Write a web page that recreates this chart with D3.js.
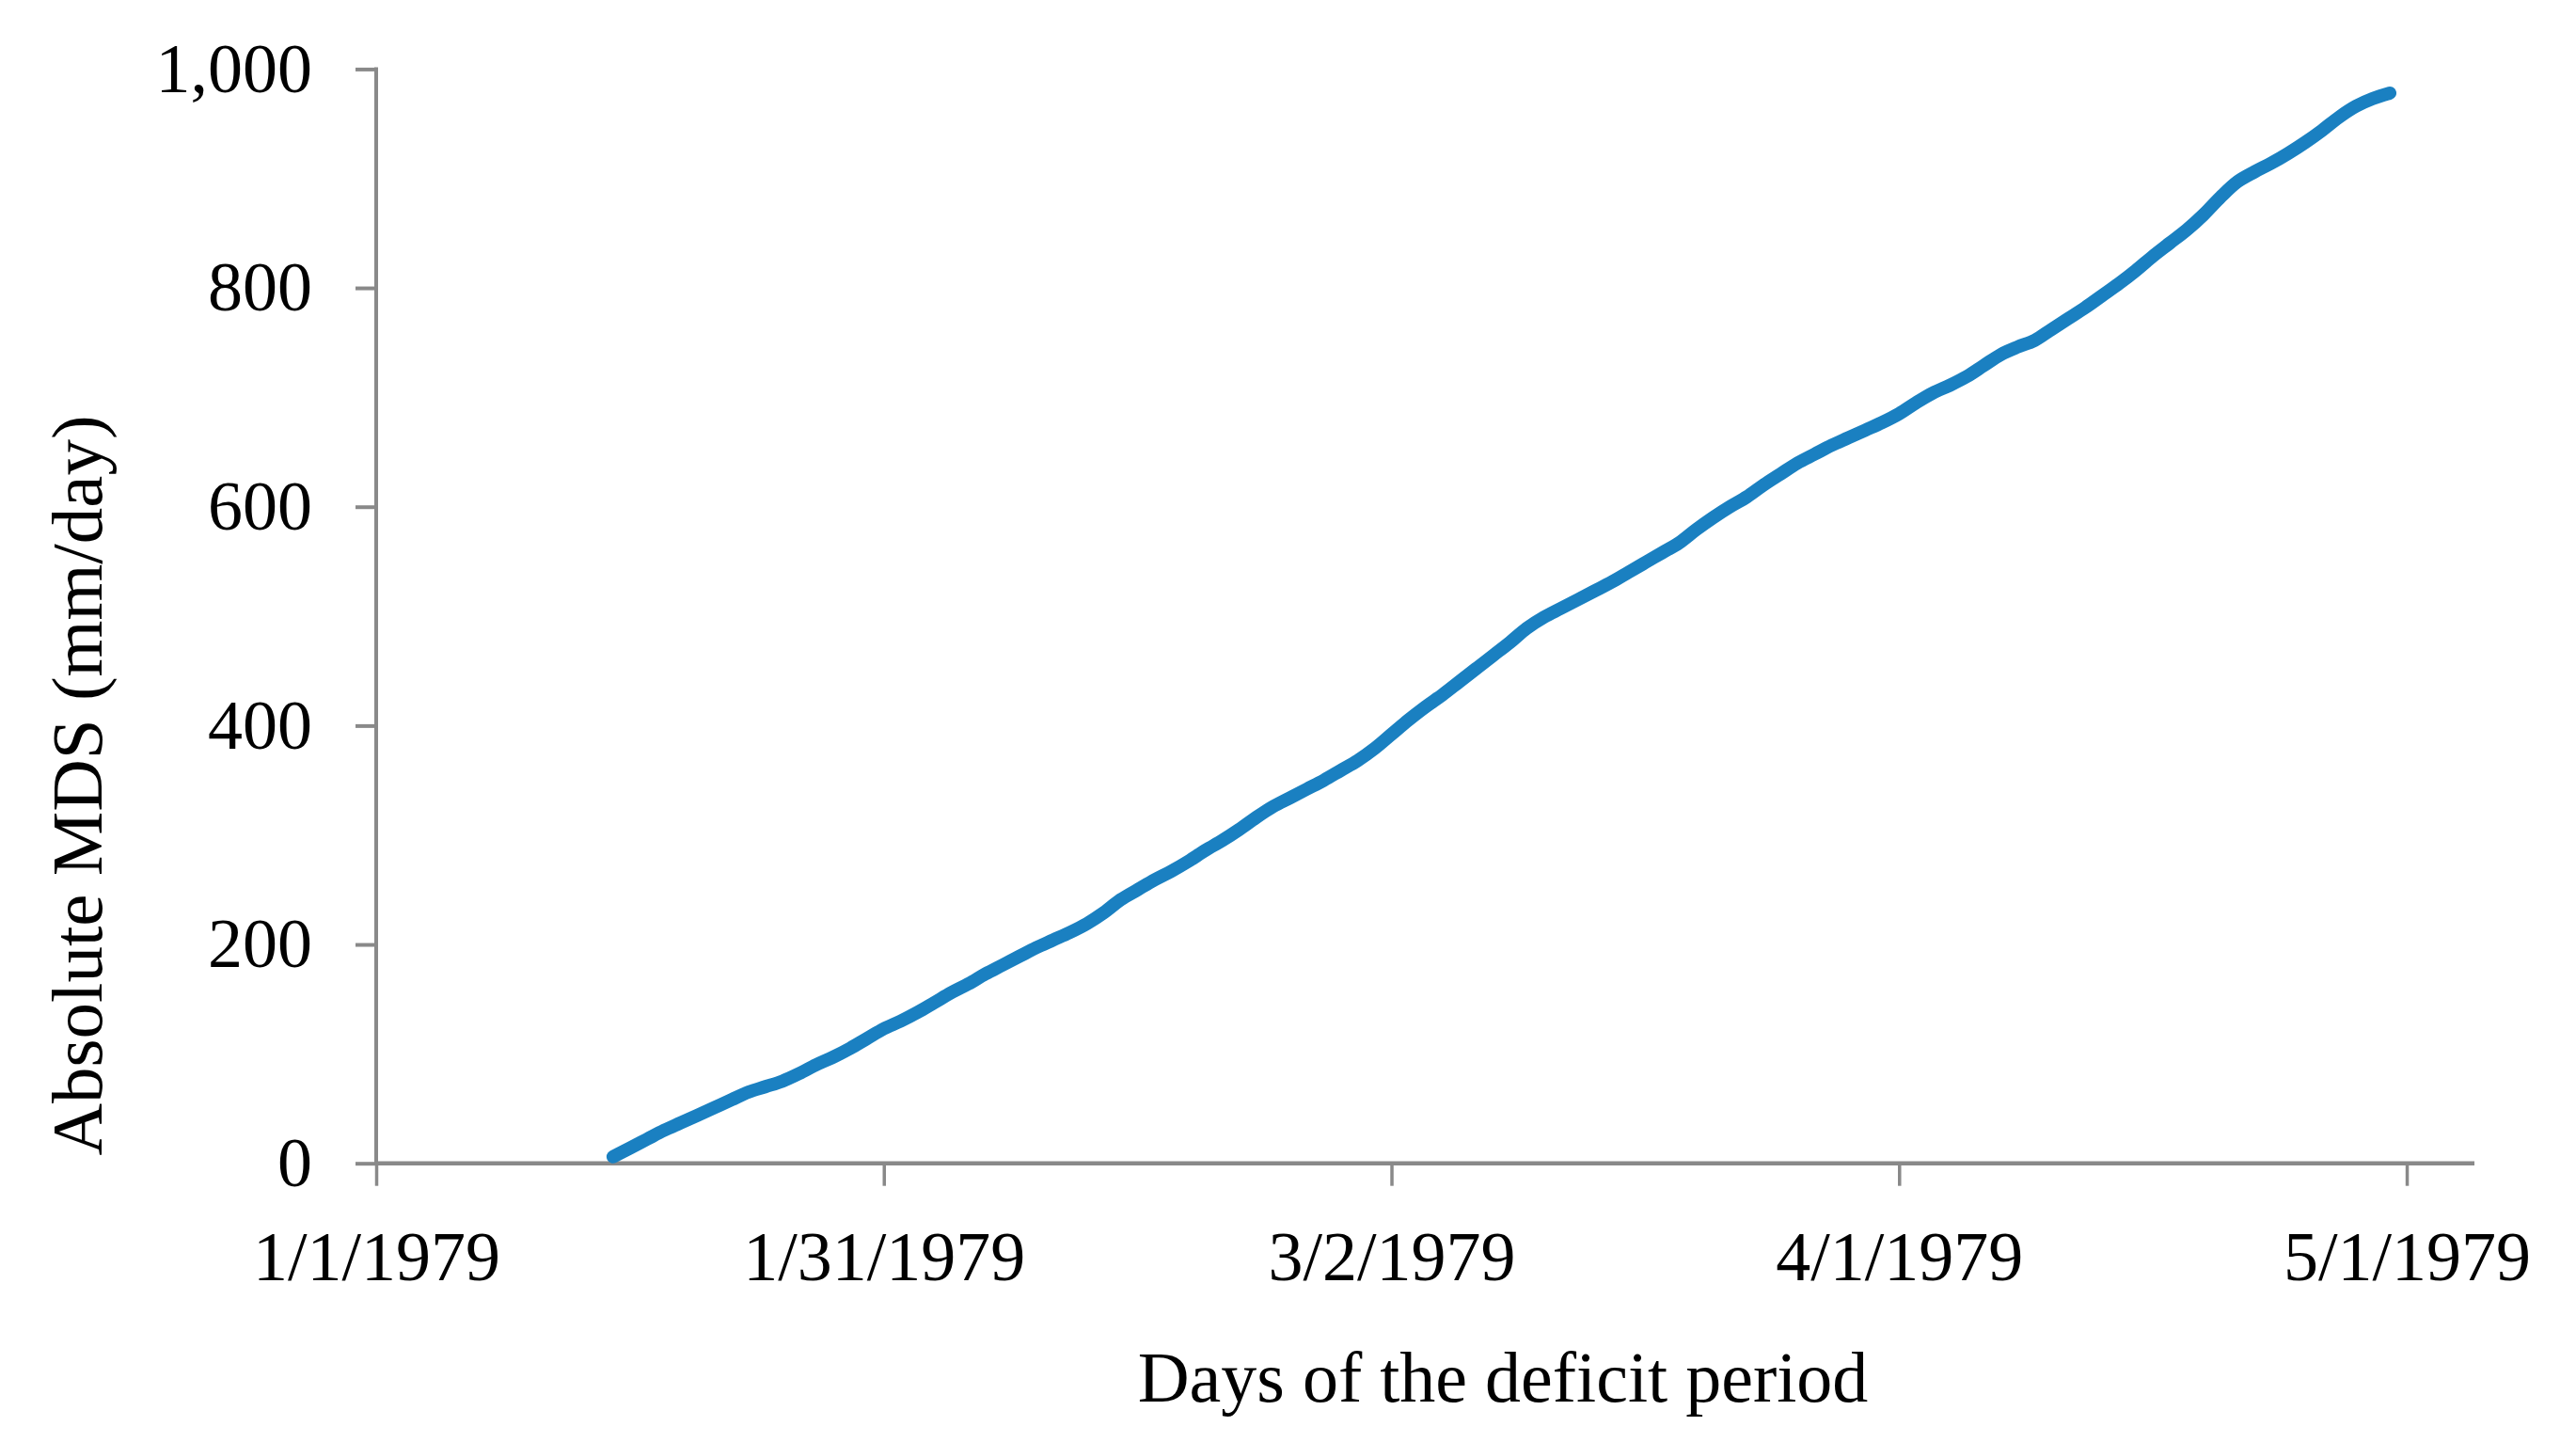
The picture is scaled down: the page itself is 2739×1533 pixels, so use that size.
<!DOCTYPE html>
<html>
<head>
<meta charset="utf-8">
<script src="https://cdn.jsdelivr.net/npm/d3@7"></script>
<style>
  html, body { margin: 0; padding: 0; background: #ffffff; }
  svg { display: block; }
  text { font-family: "Liberation Serif", "Times New Roman", serif; fill: #000; }
</style>
</head>
<body>
<svg id="chart" width="2739" height="1533"></svg>
<script>
// ---- Data ----
const startDate = "1979-01-15";            // first day of the deficit period (daily series)
const mdsValues = [
  6, 14, 22, 30, 37, 44, 51, 58, 65, 70,
  75, 82, 90, 97, 105, 114, 123, 130, 138, 147,
  156, 164, 173, 181, 189, 197, 204, 211, 219, 229,
  241, 250, 259, 267, 276, 286, 295, 305, 316, 326,
  334, 342, 350, 359, 368, 379, 392, 405, 417, 428,
  440, 452, 464, 476, 489, 499, 507, 515, 523, 531,
  540, 549, 558, 567, 579, 590, 600, 609, 620, 630,
  640, 648, 656, 663, 670, 677, 685, 695, 704, 711,
  719, 729, 739, 746, 752, 762, 772, 782, 793, 804,
  816, 829, 841, 853, 867, 883, 897, 906, 914, 923,
  933, 944, 956, 966, 973, 978
];
const xTickDates = ["1979-01-01", "1979-01-31", "1979-03-02", "1979-04-01", "1979-05-01"];
const xDomain = ["1979-01-01", "1979-05-05"];
const yTicks = [0, 200, 400, 600, 800, 1000];
const yDomain = [0, 1000];
const xTitle = "Days of the deficit period";
const yTitle = "Absolute MDS (mm/day)";

// ---- Build series ----
const parse = d3.utcParse("%Y-%m-%d");
const start = parse(startDate);
const series = mdsValues.map((v, i) => ({ date: d3.utcDay.offset(start, i), value: v }));

// ---- Layout ----
const svg = d3.select("#chart");
const plot = { left: 400, right: 2631, top: 73.4, bottom: 1236.7 };
const axisColor = "#898989";

const x = d3.scaleUtc().domain(xDomain.map(parse)).range([plot.left, plot.right]);
const y = d3.scaleLinear().domain(yDomain).range([plot.bottom, plot.top]);

const fmtDate = d3.utcFormat("%-m/%-d/%Y");
const fmtNum = d3.format(",");

// Y axis
const yAxis = d3.axisLeft(y).tickValues(yTicks).tickSize(22).tickPadding(46).tickFormat(fmtNum);
const gy = svg.append("g").attr("transform", `translate(${plot.left},0)`).call(yAxis);
gy.select(".domain").remove();
gy.selectAll(".tick line").attr("stroke", axisColor).attr("stroke-width", 4);
gy.selectAll(".tick text")
  .attr("font-family", "Liberation Serif, serif")
  .attr("font-size", 74)
  .attr("dy", "0.32em")
  .attr("fill", "#000");
gy.append("line")
  .attr("x1", 0).attr("x2", 0)
  .attr("y1", plot.top - 2).attr("y2", plot.bottom + 2)
  .attr("stroke", axisColor).attr("stroke-width", 4);

// X axis
const xAxis = d3.axisBottom(x).tickValues(xTickDates.map(parse)).tickSize(24).tickPadding(48).tickFormat(fmtDate);
const gx = svg.append("g").attr("transform", `translate(0,${plot.bottom})`).call(xAxis);
gx.select(".domain").remove();
gx.selectAll(".tick line").attr("stroke", axisColor).attr("stroke-width", 3.5);
gx.selectAll(".tick text")
  .attr("font-family", "Liberation Serif, serif")
  .attr("font-size", 74)
  .attr("fill", "#000");
gx.append("line")
  .attr("x1", plot.left - 2).attr("x2", plot.right)
  .attr("y1", 0).attr("y2", 0)
  .attr("stroke", axisColor).attr("stroke-width", 4.5);

// Line
const line = d3.line()
  .x(d => x(d.date))
  .y(d => y(d.value))
  .curve(d3.curveCatmullRom.alpha(0.5));

svg.append("path")
  .datum(series)
  .attr("fill", "none")
  .attr("stroke", "#1a80c1")
  .attr("stroke-width", 14)
  .attr("stroke-linecap", "round")
  .attr("stroke-linejoin", "round")
  .attr("d", line);

// Axis titles
svg.append("text")
  .attr("x", 1598).attr("y", 1490)
  .attr("text-anchor", "middle")
  .attr("font-size", 76)
  .text(xTitle);

svg.append("text")
  .attr("transform", "translate(108,835) rotate(-90)")
  .attr("text-anchor", "middle")
  .attr("font-size", 77)
  .text(yTitle);
</script>
</body>
</html>
